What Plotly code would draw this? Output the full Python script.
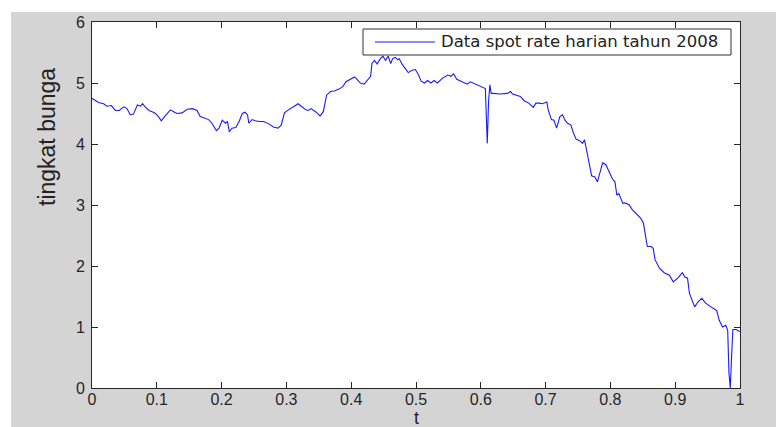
import plotly.graph_objects as go

# Daily spot rate, 2008 (t normalised to [0, 1])
t = [
    0.000, 0.003, 0.010, 0.018, 0.023, 0.030, 0.036, 0.042, 0.049, 0.054,
    0.059, 0.064, 0.070, 0.075, 0.078, 0.082, 0.088, 0.093, 0.098, 0.103,
    0.107, 0.113, 0.121, 0.126, 0.131, 0.139, 0.147, 0.155, 0.162, 0.167,
    0.175, 0.180, 0.185, 0.192, 0.196, 0.201, 0.206, 0.209, 0.212, 0.216,
    0.222, 0.227, 0.232, 0.236, 0.240, 0.242, 0.247, 0.252, 0.258, 0.265,
    0.273, 0.280, 0.287, 0.292, 0.297, 0.303, 0.311, 0.318, 0.324, 0.330,
    0.334, 0.338, 0.345, 0.352, 0.357, 0.362, 0.368, 0.374, 0.381, 0.387,
    0.392, 0.399, 0.405, 0.409, 0.414, 0.420, 0.426, 0.430, 0.432, 0.436,
    0.440, 0.445, 0.449, 0.453, 0.457, 0.461, 0.464, 0.468, 0.472, 0.474,
    0.479, 0.484, 0.488, 0.494, 0.499, 0.504, 0.508, 0.513, 0.518, 0.523,
    0.528, 0.533, 0.541, 0.549, 0.554, 0.558, 0.563, 0.571, 0.579, 0.584,
    0.592, 0.600, 0.607, 0.610, 0.612, 0.614, 0.616, 0.619, 0.630, 0.641,
    0.646, 0.649, 0.656, 0.661, 0.667, 0.674, 0.681, 0.685, 0.690, 0.695,
    0.702, 0.704, 0.709, 0.713, 0.717, 0.722, 0.726, 0.730, 0.734, 0.739,
    0.743, 0.747, 0.753, 0.757, 0.760, 0.762, 0.766, 0.771, 0.776, 0.780,
    0.784, 0.788, 0.793, 0.798, 0.803, 0.807, 0.810, 0.813, 0.819, 0.824,
    0.829, 0.834, 0.842, 0.847, 0.851, 0.854, 0.857, 0.863, 0.866, 0.869,
    0.876, 0.883, 0.891, 0.897, 0.904, 0.911, 0.915, 0.919, 0.922, 0.930,
    0.935, 0.941, 0.947, 0.958, 0.964, 0.968, 0.973, 0.978, 0.981, 0.983,
    0.985, 0.987, 0.989, 0.994, 1.000,
]
rate = [
    4.75, 4.73, 4.68, 4.66, 4.62, 4.63, 4.55, 4.55, 4.61, 4.58,
    4.48, 4.49, 4.64, 4.62, 4.66, 4.61, 4.55, 4.53, 4.50, 4.44,
    4.38, 4.46, 4.56, 4.53, 4.50, 4.51, 4.57, 4.58, 4.55, 4.45,
    4.42, 4.40, 4.34, 4.22, 4.26, 4.39, 4.34, 4.37, 4.20, 4.26,
    4.27, 4.37, 4.50, 4.52, 4.48, 4.34, 4.40, 4.38, 4.37, 4.37,
    4.33, 4.28, 4.26, 4.31, 4.51, 4.56, 4.61, 4.66, 4.61, 4.56,
    4.55, 4.58, 4.53, 4.46, 4.53, 4.80, 4.86, 4.87, 4.90, 4.94,
    5.02, 5.06, 5.10, 5.06, 5.00, 4.98, 5.06, 5.11, 5.32, 5.37,
    5.31, 5.40, 5.44, 5.37, 5.44, 5.32, 5.40, 5.42, 5.38, 5.40,
    5.30, 5.22, 5.17, 5.21, 5.22, 5.13, 5.03, 5.00, 5.04, 5.00,
    5.04, 5.00, 5.08, 5.13, 5.11, 5.15, 5.06, 5.02, 4.98, 5.02,
    4.98, 4.95, 4.91, 4.01, 4.70, 4.97, 4.83, 4.83, 4.82, 4.83,
    4.86, 4.82, 4.80, 4.78, 4.71, 4.67, 4.60, 4.67, 4.67, 4.66,
    4.69, 4.56, 4.40, 4.39, 4.26, 4.45, 4.48, 4.39, 4.34, 4.31,
    4.18, 4.08, 4.05, 4.01, 4.07, 3.98, 3.75, 3.48, 3.46, 3.38,
    3.52, 3.69, 3.66, 3.55, 3.43, 3.38, 3.16, 3.19, 3.03, 3.03,
    3.00, 2.92, 2.84, 2.78, 2.70, 2.48, 2.32, 2.32, 2.29, 2.10,
    1.96, 1.89, 1.85, 1.74, 1.80, 1.89, 1.82, 1.80, 1.55, 1.33,
    1.41, 1.47, 1.39, 1.31, 1.27, 1.11, 1.00, 1.03, 0.95, 0.24,
    0.00, 0.51, 0.96, 0.96, 0.92,
]

x_ticks = [0, 0.1, 0.2, 0.3, 0.4, 0.5, 0.6, 0.7, 0.8, 0.9, 1]
x_tick_text = ["0", "0.1", "0.2", "0.3", "0.4", "0.5", "0.6", "0.7", "0.8", "0.9", "1"]
y_ticks = [0, 1, 2, 3, 4, 5, 6]

series_name = "Data spot rate harian tahun 2008"
x_title = "t"
y_title = "tingkat bunga"

W, H = 776, 427
L, R, T, B = 92, 36, 22, 39
LINE_BLUE = "#1a1aff"
AXIS_COL = "#262626"
FIG_GRAY = "#d4d4d4"
TEXT_FONT = "Liberation Sans, Arial, sans-serif"


def px_x(px):
    return (px - L) / (W - L - R)


def px_y(py):
    return (H - B - py) / (H - T - B)


fig = go.Figure()
fig.add_trace(go.Scatter(
    x=t, y=rate, mode="lines", name=series_name,
    line=dict(color=LINE_BLUE, width=1.1),
    showlegend=False,
))

axis_common = dict(
    showline=True, linecolor=AXIS_COL, linewidth=1, mirror="ticks",
    ticks="inside", ticklen=6, tickwidth=1, tickcolor=AXIS_COL,
    showgrid=False, zeroline=False,
    tickfont=dict(family=TEXT_FONT, size=16, color=AXIS_COL),
)

fig.update_xaxes(range=[0, 1], tickvals=x_ticks, ticktext=x_tick_text,
                 ticklabelstandoff=-3, **axis_common)
fig.update_yaxes(range=[0, 6], tickvals=y_ticks, ticklabelstandoff=3,
                 **axis_common)

shapes = [
    # white strips along the top and left edge of the window
    dict(type="rect", xref="paper", yref="paper", layer="below",
         x0=px_x(0), x1=px_x(W), y0=px_y(0), y1=px_y(12),
         fillcolor="white", line=dict(width=0)),
    dict(type="rect", xref="paper", yref="paper", layer="below",
         x0=px_x(0), x1=px_x(11), y0=px_y(H), y1=px_y(0),
         fillcolor="white", line=dict(width=0)),
    # legend box and sample line
    dict(type="rect", xref="paper", yref="paper",
         x0=px_x(363), x1=px_x(731), y0=px_y(55), y1=px_y(29),
         fillcolor="white", line=dict(color="#333333", width=1)),
    dict(type="line", xref="paper", yref="paper",
         x0=px_x(375), x1=px_x(435), y0=px_y(42), y1=px_y(42),
         line=dict(color=LINE_BLUE, width=1.1)),
]

annotations = [
    dict(text=series_name, xref="paper", yref="paper",
         x=px_x(439), y=px_y(42), xanchor="left", yanchor="middle",
         showarrow=False,
         font=dict(family="DejaVu Sans, sans-serif", size=16.5, color="#222222")),
    dict(text=y_title, xref="paper", yref="paper",
         x=px_x(47), y=px_y(137), xanchor="center", yanchor="middle",
         textangle=-90, showarrow=False,
         font=dict(family=TEXT_FONT, size=23, color="#222222")),
    dict(text=x_title, xref="paper", yref="paper",
         x=px_x(416), y=px_y(418), xanchor="center", yanchor="middle",
         showarrow=False,
         font=dict(family=TEXT_FONT, size=18, color="#222222")),
]

fig.update_layout(
    width=W, height=H,
    margin=dict(l=L, r=R, t=T, b=B, pad=0),
    paper_bgcolor=FIG_GRAY, plot_bgcolor="white",
    shapes=shapes, annotations=annotations,
    showlegend=False,
)

fig.write_html("out.html")
